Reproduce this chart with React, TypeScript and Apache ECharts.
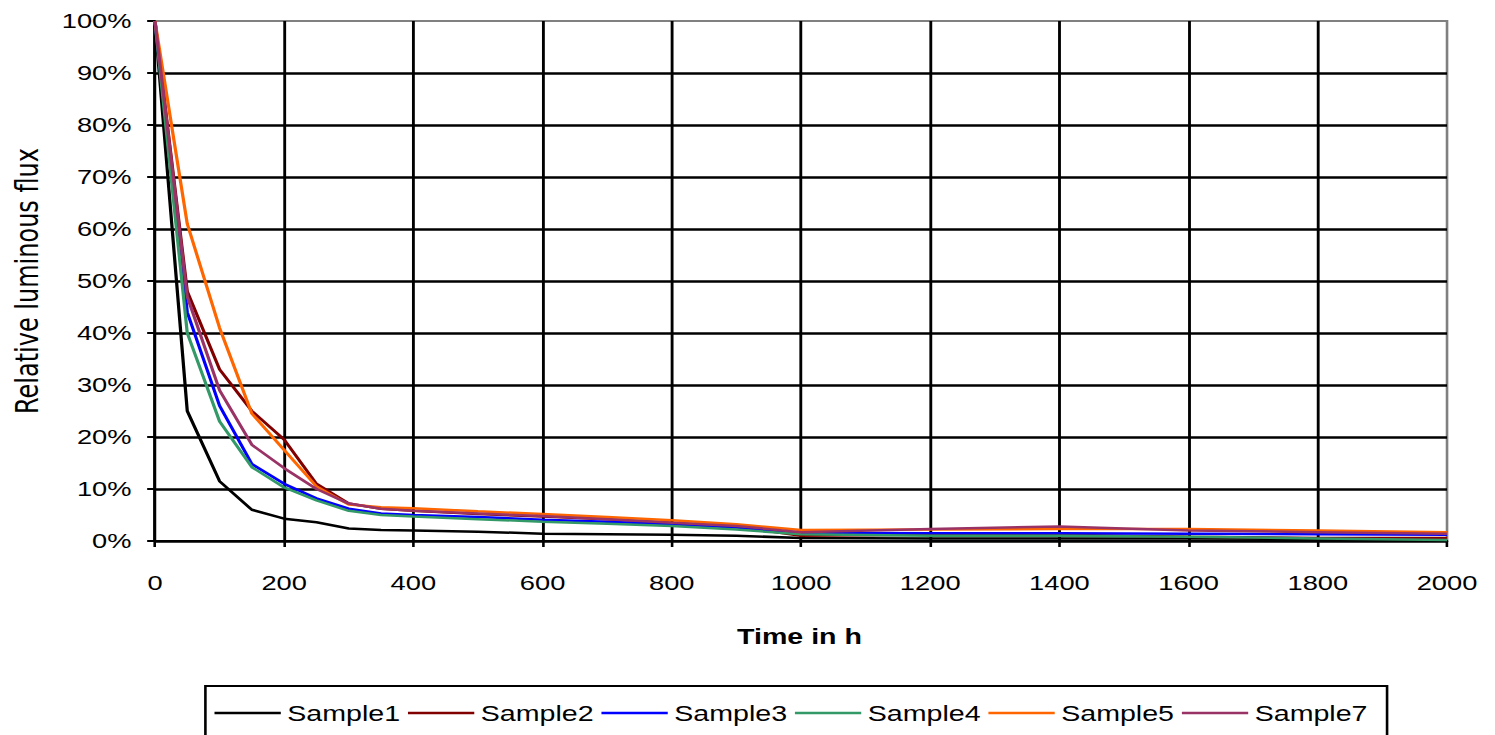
import React, { useEffect, useRef } from "react";
import * as echarts from "echarts";

const times = [0, 50, 100, 150, 200, 250, 300, 350, 400, 500, 600, 700, 800, 900, 1000, 1200, 1400, 1600, 1800, 2000];
const sample1 = [100, 25, 11.5, 6, 4.3, 3.6, 2.4, 2.1, 2.0, 1.8, 1.4, 1.3, 1.2, 1.0, 0.6, 0.5, 0.5, 0.5, 0.4, 0.4];
const sample2 = [100, 48, 33, 25, 19.5, 11, 7.2, 6.2, 5.8, 5.2, 4.7, 4.2, 3.5, 2.8, 1.0, 1.2, 1.2, 0.8, 0.6, 0.6];
const sample3 = [100, 44, 26, 14.8, 11, 8.2, 6.2, 5.3, 5.0, 4.6, 4.1, 3.7, 3.2, 2.6, 1.6, 1.5, 1.5, 1.4, 1.3, 1.2];
const sample4 = [100, 40, 23, 14.2, 10.3, 7.8, 5.8, 5.0, 4.7, 4.2, 3.7, 3.3, 2.9, 2.2, 1.3, 1.0, 1.0, 0.8, 0.5, 0.2];
const sample5 = [100, 61, 41, 24.5, 17.5, 10.5, 7.0, 6.5, 6.3, 5.7, 5.2, 4.6, 4.0, 3.2, 2.1, 2.2, 2.3, 2.3, 2.0, 1.7];
const sample7 = [100, 47, 29, 18.5, 14, 10, 7.2, 6.2, 5.8, 5.3, 4.8, 4.2, 3.5, 2.9, 1.7, 2.3, 2.8, 2.0, 1.7, 1.4];

const seriesNames = ["Sample1", "Sample2", "Sample3", "Sample4", "Sample5", "Sample7"];
const seriesValues = [sample1, sample2, sample3, sample4, sample5, sample7];
const seriesColors = ["#000000", "#800000", "#0000ff", "#339966", "#ff6600", "#993366"];

const xTitle = "Time in h";
const yTitle = "Relative luminous flux";

const SX = 1.3;
const FONT = "'Liberation Sans', Arial, sans-serif";

export default function App() {
  const ref = useRef<HTMLDivElement>(null);
  useEffect(() => {
    if (!ref.current) return;
    const chart = echarts.init(ref.current, undefined, { renderer: "svg" });
    const series = seriesNames.map((name, i) => ({
      name,
      type: "line",
      data: times.map((t, j) => [t, seriesValues[i][j]]),
      symbol: "none",
      showSymbol: false,
      color: seriesColors[i],
      lineStyle: { color: seriesColors[i], width: 2.5 },
    }));
    chart.setOption({
      animation: false,
      backgroundColor: "#ffffff",
      grid: {
        left: 119.2,
        right: 36.9,
        top: 21,
        bottom: 194,
        show: true,
        borderColor: "#808080",
        borderWidth: 2,
        backgroundColor: "transparent",
      },
      xAxis: {
        type: "value",
        min: 0,
        max: 2000,
        interval: 200,
        axisLine: { show: true, lineStyle: { color: "#000", width: 2 } },
        axisTick: { show: true, inside: false, length: 6, lineStyle: { color: "#000", width: 2 } },
        axisLabel: {
          color: "#000",
          fontSize: 21,
          fontFamily: FONT,
          margin: 31,
          formatter: (v: number) => String(v),
        },
        splitLine: { show: true, showMaxLine: false, lineStyle: { color: "#000", width: 2.2 } },
      },
      yAxis: {
        type: "value",
        min: 0,
        max: 100,
        interval: 10,
        axisLine: { show: true, lineStyle: { color: "#000", width: 2 } },
        axisTick: { show: true, inside: false, length: 6, lineStyle: { color: "#000", width: 2 } },
        axisLabel: { color: "#000", fontSize: 21, fontFamily: FONT, margin: 18, formatter: "{value}%" },
        splitLine: { show: true, showMaxLine: false, lineStyle: { color: "#000", width: 2.5 } },
      },
      legend: {
        data: seriesNames.map((n, i) => ({ name: n, icon: "rect", itemStyle: { color: seriesColors[i] } })),
        left: 158,
        top: 686,
        orient: "horizontal",
        icon: "rect",
        itemWidth: 51,
        itemHeight: 2.5,
        itemGap: 6,
        padding: [16, 15, 30, 7],
        borderColor: "#000",
        borderWidth: 2,
        textStyle: { color: "#000", fontSize: 22, fontFamily: FONT },
      },
      graphic: [
        {
          type: "text",
          x: 615,
          y: 636,
          style: {
            text: xTitle,
            fill: "#000",
            font: `bold 22px ${FONT}`,
            textAlign: "center",
            textVerticalAlign: "middle",
          },
        },
        {
          type: "text",
          x: 21,
          y: 281,
          rotation: Math.PI / 2,
          style: {
            text: yTitle,
            fill: "#000",
            font: `24px 'DejaVu Sans', sans-serif`,
            textAlign: "center",
            textVerticalAlign: "middle",
          },
        },
      ],
      series,
    });
    return () => chart.dispose();
  }, []);
  return (
    <div style={{ position: "absolute", left: 0, top: 0, width: 1495, height: 735, overflow: "hidden", background: "#fff" }}>
      <div
        ref={ref}
        style={{ width: 1150, height: 735, transform: `scaleX(${SX})`, transformOrigin: "0 0" }}
      />
    </div>
  );
}
